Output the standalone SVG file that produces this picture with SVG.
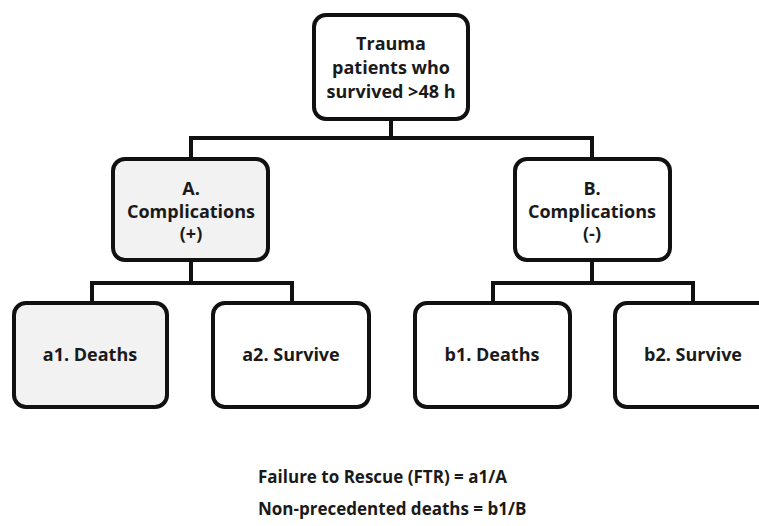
<svg xmlns="http://www.w3.org/2000/svg" width="759" height="526" viewBox="0 0 759 526">
<style>
.box{fill:#fff;stroke:#111;stroke-width:4}
.shade{fill:#f2f2f2}
.t{font-family:"Open Sans","Liberation Sans",sans-serif;font-weight:bold;font-size:18px;fill:#1a1a1a;text-anchor:middle}
.f{font-family:"Open Sans","Liberation Sans",sans-serif;font-weight:bold;font-size:17px;fill:#1a1a1a}
.c{fill:none;stroke:#111;stroke-width:4}
</style>
<rect width="759" height="526" fill="#fff"/>
<g id="connectors">
<path class="c" d="M391 119V138M191 138H592M191 136V159M592 136V159"/>
<path class="c" d="M191 260V283M92 283H292M92 281V303M292 281V303"/>
<path class="c" d="M592 260V283M493 283H693M493 281V303M693 281V303"/>
</g>
<g id="root"><rect class="box" x="314" y="15" width="154" height="104" rx="12"/>
<text class="t" x="391" y="50">Trauma</text><text class="t" x="391" y="74">patients who</text><text class="t" x="391" y="98">survived &gt;48 h</text></g>
<g id="A"><rect class="box shade" x="113" y="159" width="155" height="101" rx="12"/>
<text class="t" x="191" y="195">A.</text><text class="t" x="191" y="218">Complications</text><text class="t" x="191" y="240">(+)</text></g>
<g id="B"><rect class="box" x="515" y="159" width="155" height="101" rx="12"/>
<text class="t" x="592" y="195">B.</text><text class="t" x="592" y="218">Complications</text><text class="t" x="592" y="240">(-)</text></g>
<g id="a1"><rect class="box shade" x="14" y="303" width="153" height="104" rx="12"/><text class="t" x="90" y="361">a1. Deaths</text></g>
<g id="a2"><rect class="box" x="213" y="303" width="156" height="104" rx="12"/><text class="t" x="291" y="361">a2. Survive</text></g>
<g id="b1"><rect class="box" x="415" y="303" width="155" height="104" rx="12"/><text class="t" x="492" y="361">b1. Deaths</text></g>
<g id="b2"><rect class="box" x="615" y="303" width="156" height="104" rx="12"/><text class="t" x="693" y="361">b2. Survive</text></g>
<g id="formulas">
<text class="f" x="258" y="483">Failure to Rescue (FTR) = a1/A</text>
<text class="f" x="258" y="515">Non-precedented deaths = b1/B</text>
</g>
</svg>
